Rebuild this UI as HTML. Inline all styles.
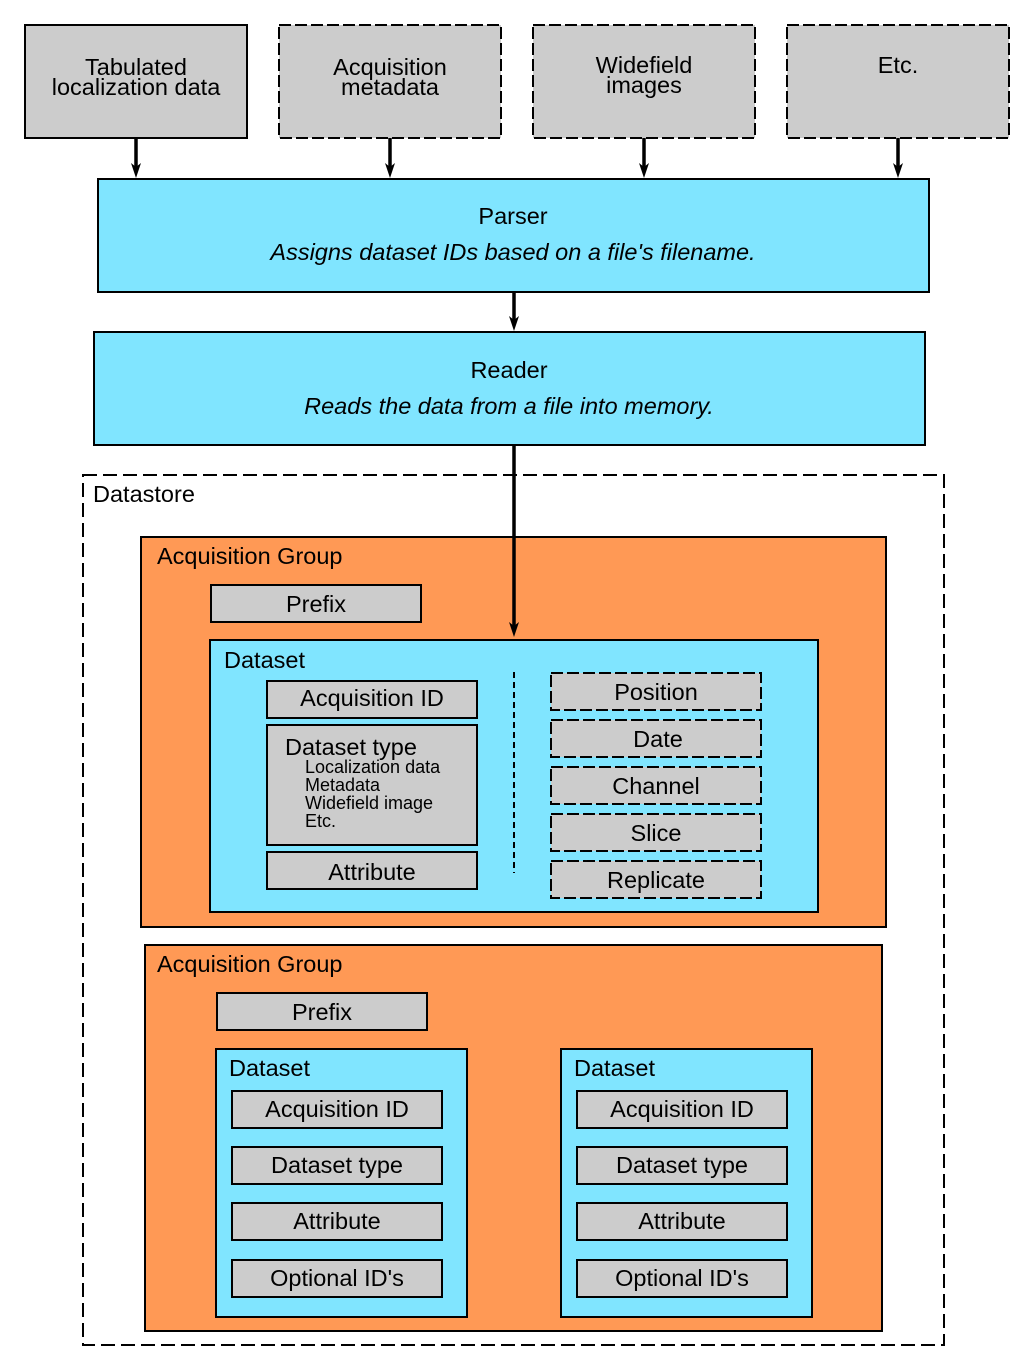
<!DOCTYPE html>
<html><head><meta charset="utf-8"><style>body{margin:0;background:#fff}svg{display:block}text{font-family:"Liberation Sans",sans-serif;fill:#000}</style></head><body>
<svg width="1033" height="1370" viewBox="0 0 1033 1370" xmlns="http://www.w3.org/2000/svg">
<g stroke="#000" stroke-width="2" fill="#ccc">
<rect x="25" y="25" width="222" height="113"/>
<rect x="279" y="25" width="222" height="113" stroke-dasharray="12,4"/>
<rect x="533" y="25" width="222" height="113" stroke-dasharray="12,4"/>
<rect x="787" y="25" width="222" height="113" stroke-dasharray="12,4"/>
</g>
<g font-size="23.5" text-anchor="middle">
<text x="136" y="75">Tabulated</text><text x="136" y="95">localization data</text>
<text x="390" y="75">Acquisition</text><text x="390" y="95">metadata</text>
<text x="644" y="73">Widefield</text><text x="644" y="93">images</text>
<text x="898" y="73">Etc.</text>
</g>
<g stroke="#000" stroke-width="3.5">
<line x1="136" y1="138" x2="136" y2="168"/>
<line x1="390" y1="138" x2="390" y2="168"/>
<line x1="644" y1="138" x2="644" y2="168"/>
<line x1="898" y1="138" x2="898" y2="168"/>
<line x1="514" y1="292" x2="514" y2="320"/>
</g>
<g fill="#000">
<polygon points="131,163 136,167 141,163 136,178"/>
<polygon points="385,163 390,167 395,163 390,178"/>
<polygon points="639,163 644,167 649,163 644,178"/>
<polygon points="893,163 898,167 903,163 898,178"/>
<polygon points="509,316 514,320 519,316 514,331"/>
</g>
<rect x="98" y="179" width="831" height="113" fill="#80e5ff" stroke="#000" stroke-width="2"/>
<rect x="94" y="332" width="831" height="113" fill="#80e5ff" stroke="#000" stroke-width="2"/>
<g font-size="23.5" text-anchor="middle">
<text x="513" y="224">Parser</text>
<text x="513" y="260" font-style="italic">Assigns dataset IDs based on a file's filename.</text>
<text x="509" y="378">Reader</text>
<text x="509" y="414" font-style="italic">Reads the data from a file into memory.</text>
</g>
<rect x="83" y="475" width="861" height="870" fill="none" stroke="#000" stroke-width="2" stroke-dasharray="14,6"/>
<text x="93" y="502" font-size="23.5">Datastore</text>
<g stroke="#000" stroke-width="2">
<rect x="141" y="537" width="745" height="390" fill="#ff9955"/>
<rect x="145" y="945" width="737" height="386" fill="#ff9955"/>
<rect x="210" y="640" width="608" height="272" fill="#80e5ff"/>
<rect x="216" y="1049" width="251" height="268" fill="#80e5ff"/>
<rect x="561" y="1049" width="251" height="268" fill="#80e5ff"/>
<g fill="#ccc">
<rect x="211" y="585" width="210" height="37"/>
<rect x="217" y="993" width="210" height="37"/>
<rect x="267" y="681" width="210" height="37"/>
<rect x="267" y="725" width="210" height="120"/>
<rect x="267" y="852" width="210" height="37"/>
<g stroke-dasharray="12,4">
<rect x="551" y="673" width="210" height="37"/>
<rect x="551" y="720" width="210" height="37"/>
<rect x="551" y="767" width="210" height="37"/>
<rect x="551" y="814" width="210" height="37"/>
<rect x="551" y="861" width="210" height="37"/>
</g>
<rect x="232" y="1091" width="210" height="37"/>
<rect x="232" y="1147" width="210" height="37"/>
<rect x="232" y="1203" width="210" height="37"/>
<rect x="232" y="1260" width="210" height="37"/>
<rect x="577" y="1091" width="210" height="37"/>
<rect x="577" y="1147" width="210" height="37"/>
<rect x="577" y="1203" width="210" height="37"/>
<rect x="577" y="1260" width="210" height="37"/>
</g>
<line x1="514" y1="672" x2="514" y2="873" stroke-dasharray="6,4"/>
</g>
<line x1="514" y1="445" x2="514" y2="626" stroke="#000" stroke-width="3.5"/>
<polygon points="509,622 514,626 519,622 514,637" fill="#000"/>
<g font-size="23.5">
<text x="157" y="564">Acquisition Group</text>
<text x="157" y="972">Acquisition Group</text>
<text x="224" y="668">Dataset</text>
<text x="229" y="1076">Dataset</text>
<text x="574" y="1076">Dataset</text>
<text x="285" y="755">Dataset type</text>
</g>
<g font-size="18">
<text x="305" y="773">Localization data</text>
<text x="305" y="791">Metadata</text>
<text x="305" y="809">Widefield image</text>
<text x="305" y="827">Etc.</text>
</g>
<g font-size="23.5" text-anchor="middle">
<text x="316" y="612">Prefix</text>
<text x="322" y="1020">Prefix</text>
<text x="372" y="706">Acquisition ID</text>
<text x="372" y="880">Attribute</text>
<text x="656" y="700">Position</text>
<text x="658" y="747">Date</text>
<text x="656" y="794">Channel</text>
<text x="656" y="841">Slice</text>
<text x="656" y="888">Replicate</text>
<text x="337" y="1117">Acquisition ID</text>
<text x="337" y="1173">Dataset type</text>
<text x="337" y="1229">Attribute</text>
<text x="337" y="1286">Optional ID's</text>
<text x="682" y="1117">Acquisition ID</text>
<text x="682" y="1173">Dataset type</text>
<text x="682" y="1229">Attribute</text>
<text x="682" y="1286">Optional ID's</text>
</g>
</svg>
</body></html>
